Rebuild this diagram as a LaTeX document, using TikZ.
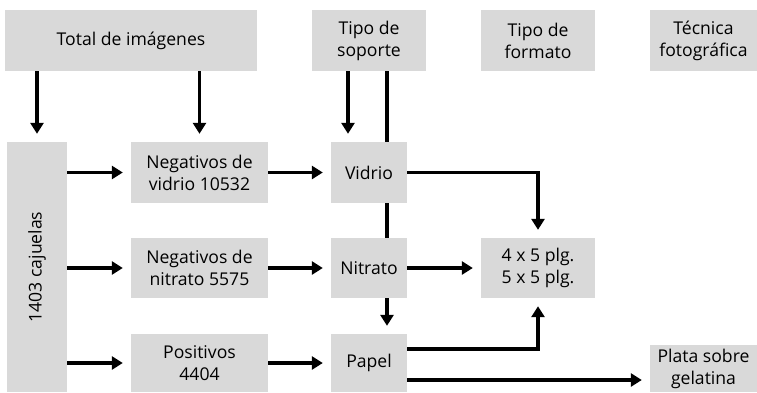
\documentclass[tikz,border=0pt]{standalone}
\usepackage{fontspec}
\setmainfont{Open Sans}
\usetikzlibrary{arrows.meta}
\definecolor{boxgray}{HTML}{D9D9D9}
\tikzset{
  txt/.style={font=\fontsize{17.6}{22}\selectfont},
  box/.style={fill=boxgray, inner sep=0pt, align=center, txt},
  ln/.style={line width=3.2pt},
  arr/.style={line width=3.2pt, -{Triangle[length=11pt,width=13pt]}, shorten >=8pt},
}
\begin{document}
\begin{tikzpicture}[x=1pt,y=-1pt]
\useasboundingbox (0,0) rectangle (757,392);
\node[box, minimum width=252pt, minimum height=61pt] (total) at (131,40.5) {Total de imágenes};
\node[box, minimum width=114pt, minimum height=61pt] (soporte) at (369,40.5) {Tipo de\\soporte};
\node[box, minimum width=114pt, minimum height=61pt] (formato) at (538,40.5) {Tipo de\\formato};
\node[box, minimum width=107pt, minimum height=61pt] (tecnica) at (703.5,40.5) {Técnica\\fotográfica};
\node[box, minimum width=60pt, minimum height=250pt] (caj) at (37,267) {};
\node[rotate=90, txt] (cajtxt) at (caj.center) {1403 cajuelas};
\node[box, minimum width=137pt, minimum height=61pt] (negvid) at (199.5,172.5) {Negativos de\\vidrio 10532};
\node[box, minimum width=137pt, minimum height=60pt] (negnit) at (199.5,268) {Negativos de\\nitrato 5575};
\node[box, minimum width=137pt, minimum height=58pt] (posit) at (199.5,363) {Positivos\\4404};
\node[box, minimum width=76pt, minimum height=61pt] (vidrio) at (369,172.5) {Vidrio};
\node[box, minimum width=76pt, minimum height=60pt] (nitrato) at (369,268) {Nitrato};
\node[box, minimum width=76pt, minimum height=58pt] (papel) at (369,363) {Papel};
\node[box, minimum width=114pt, minimum height=60pt] (fmt) at (538,268) {4 x 5 plg.\\5 x 5 plg.};
\node[box, minimum width=107pt, minimum height=47pt] (plata) at (703.5,368.5) {Plata sobre\\gelatina};
% arrows from top
\draw[arr] (total.south -| caj.north) -- (caj.north);
\draw[arr] (total.south -| negvid.north) -- (negvid.north);
\draw[arr] ([xshift=-21pt]soporte.south) -- ([xshift=-21pt]vidrio.north);
\draw[ln] ([xshift=18pt]soporte.south) -- ([xshift=18pt]vidrio.north);
\draw[ln] ([xshift=18pt]vidrio.south) -- ([xshift=18pt]nitrato.north);
\draw[arr] ([xshift=18pt]nitrato.south) -- ([xshift=18pt]papel.north);
% horizontal arrows
\draw[arr] (caj.east |- negvid.west) -- (negvid.west);
\draw[arr] (caj.east |- negnit.west) -- (negnit.west);
\draw[arr] (caj.east |- posit.west) -- (posit.west);
\draw[arr] (negvid.east) -- (vidrio.west);
\draw[arr] (negnit.east) -- (nitrato.west);
\draw[arr] (posit.east) -- (papel.west);
\draw[arr] (vidrio.east) -| (fmt.north);
\draw[arr] (nitrato.east) -- (fmt.west);
\draw[arr] ([yshift=14pt]papel.east) -| (fmt.south);
\coordinate (pl) at ([yshift=-17pt]papel.east);
\draw[arr] (pl) -- (pl -| plata.west);
\end{tikzpicture}
\end{document}
